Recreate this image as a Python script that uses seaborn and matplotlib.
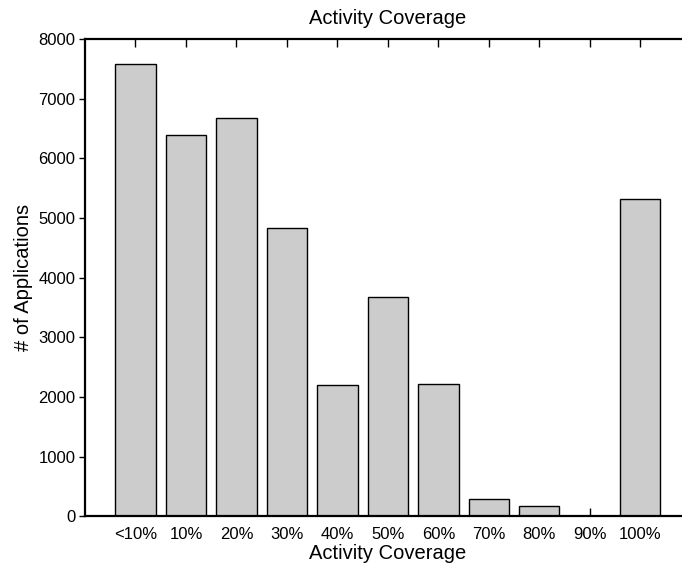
import matplotlib
matplotlib.use("Agg")
import matplotlib.pyplot as plt
import seaborn as sns
import pandas as pd

categories = ["<10%", "10%", "20%", "30%", "40%", "50%", "60%", "70%", "80%", "90%", "100%"]
counts = [7585, 6390, 6670, 4835, 2195, 3675, 2220, 290, 180, 0, 5325]
y_ticks = [0, 1000, 2000, 3000, 4000, 5000, 6000, 7000, 8000]

sns.set_style("white")
plt.rcParams['font.family'] = ['Liberation Sans', 'DejaVu Sans']
plt.rcParams['text.color'] = 'black'
plt.rcParams['axes.labelcolor'] = 'black'
plt.rcParams['xtick.color'] = 'black'
plt.rcParams['ytick.color'] = 'black'

df = pd.DataFrame({"coverage": categories, "apps": counts})

fig = plt.figure(figsize=(6.82, 5.64), dpi=100)
ax = fig.add_axes([85 / 682, 1 - 516.3 / 564, (690.7 - 85) / 682, (516.3 - 39) / 564])

sns.barplot(data=df, x="coverage", y="apps", color="#cccccc", saturation=1,
            edgecolor="black", linewidth=1.0, width=0.8, ax=ax)

ax.set_axisbelow(True)
ax.set_xlim(-1, 11)
ax.set_ylim(0, 8000)
ax.set_yticks(y_ticks)
ax.set_yticklabels([str(t) for t in y_ticks])
ax.tick_params(axis='x', direction='in', length=6, width=1, top=True, bottom=True,
               labelsize=12, pad=8)
ax.tick_params(axis='y', direction='out', length=4, width=1, left=True, right=False,
               labelsize=12, pad=3)
ax.set_title("Activity Coverage", fontsize=14.5, pad=11)
ax.set_xlabel("Activity Coverage", fontsize=14.5, labelpad=1)
ax.set_ylabel("# of Applications", fontsize=14.5, labelpad=4)
for s in ax.spines.values():
    s.set_color('black')
    s.set_linewidth(1.6)
    s.set_visible(True)

fig.savefig("out.png", dpi=100)
